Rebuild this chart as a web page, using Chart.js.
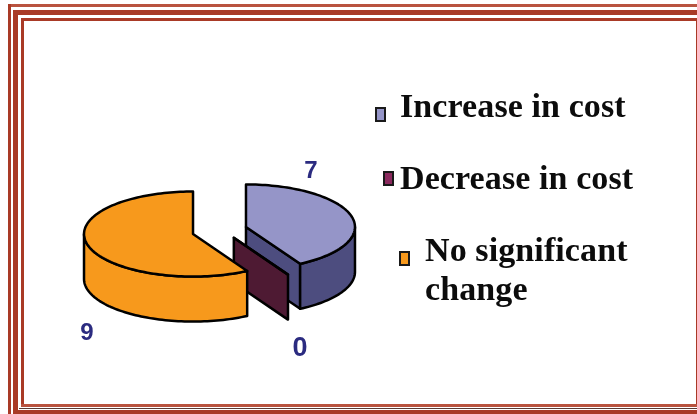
<!DOCTYPE html>
<html>
<head>
<meta charset="utf-8">
<title>Cost change</title>
<script src="https://cdn.jsdelivr.net/npm/chart.js@4/dist/chart.umd.min.js"></script>
<style>
  html, body { margin: 0; padding: 0; background: #fff; }
  #page { position: relative; width: 697px; height: 414px; overflow: hidden; }
  #pie { position: absolute; left: 0; top: 0; }
  .rule { position: absolute; background: #a93a26; }
  .entry {
    position: absolute;
    font: bold 34px/39px "Liberation Serif", serif;
    letter-spacing: 0.1px;
    color: #0c0c0c;
    white-space: nowrap;
  }
  .swatch {
    position: absolute;
    box-sizing: border-box;
    width: 11px; height: 15px;
    border: 2px solid #1a1a1a;
  }
</style>
</head>
<body>
<div id="page">
  <div id="frame"></div>
  <canvas id="pie" width="697" height="414"></canvas>
  <div id="legend"></div>
</div>
<script>
// data
const categories = ["Increase in cost", "Decrease in cost", "No significant change"];
const counts = [7, 0, 9];

// colours for each slice: top face, side wall
const topColors = ["#9595c8", "#8b2a5e", "#f7991c"];
const wallColors = ["#4d4d7f", "#4e1a33", "#f7991c"];

// pie look
const TILT = 0.39;       // ellipse height / width
const DEPTH = 45;        // height of the side wall
const EXPLODE = 27;
const SKEW = 0.18;       // angle foreshortening from the 3d view
const sliceNudge = [[0, -2], [4, -3], [0, 1]];

// ---- frame: [left, top, width, height, colour] of each band ----
const RED = "#a93a26";
const frameBands = [
  [8, 4, 689, 2.7, "#b9533f"], [8, 4, 3, 410, RED],
  [13, 10, 684, 5.3, RED], [13, 10, 5.3, 404, RED],
  [21, 18, 676, 2.7, RED], [21, 18, 3, 389, RED],
  [696, 18, 1, 389, RED],
  [21, 404, 676, 2.7, "#b9533f"],
  [19, 407.6, 678, 1, "#5a3a34"],
  [13, 410, 684, 4, RED]
];
frameBands.forEach(b => {
  const d = document.createElement("div");
  d.className = "rule";
  d.style.cssText = `left:${b[0]}px;top:${b[1]}px;width:${b[2]}px;height:${b[3]}px;background:${b[4]}`;
  document.getElementById("frame").appendChild(d);
});

// ---- legend, laid out by hand like a slide ----
const legendSlots = [
  { sx: 375, sy: 107, tx: 400, ty: 86, w: 0 },
  { sx: 383, sy: 171, tx: 400, ty: 158, w: 0 },
  { sx: 399, sy: 251, tx: 425, ty: 230, w: 240 }
];
categories.forEach((name, i) => {
  const slot = legendSlots[i];
  const sw = document.createElement("div");
  sw.className = "swatch";
  sw.style.cssText = `left:${slot.sx}px;top:${slot.sy}px;background:${topColors[i]}`;
  const label = document.createElement("div");
  label.className = "entry";
  label.style.cssText = `left:${slot.tx}px;top:${slot.ty}px`;
  if (slot.w) {
    label.style.width = slot.w + "px";
    label.style.whiteSpace = "normal";
  }
  label.textContent = name;
  document.getElementById("legend").append(sw, label);
});

// where the value numbers sit, next to each slice
const valueSlots = [
  { x: 311, y: 171, size: 24 },
  { x: 300, y: 349, size: 27 },
  { x: 87, y: 333, size: 24 }
];

// clockwise angle from 12 o'clock, nudged for the view
function viewAngle(a) {
  const t = a + Math.PI / 2;
  return t + SKEW * Math.sin(2 * t);
}

function rimPoint(cx, cy, r, t) {
  return [cx + r * Math.sin(t), cy - r * TILT * Math.cos(t)];
}

function rimPath(cx, cy, r, from, to) {
  const pts = [];
  const steps = Math.max(1, Math.ceil(Math.abs(to - from) / 0.03));
  for (let i = 0; i <= steps; i++) {
    pts.push(rimPoint(cx, cy, r, from + (to - from) * i / steps));
  }
  return pts;
}

function fillOutline(ctx, pts, color) {
  ctx.beginPath();
  pts.forEach((p, i) => i ? ctx.lineTo(p[0], p[1]) : ctx.moveTo(p[0], p[1]));
  ctx.closePath();
  ctx.fillStyle = color;
  ctx.fill();
  ctx.stroke();
}

function drawSlice(ctx, arc, index) {
  const opts = arc.options;
  const r = arc.outerRadius;
  const mid = (arc.startAngle + arc.endAngle) / 2 + Math.PI / 2;
  // the library's offset, pushed out along the slice middle on the tilted plane
  const cx = arc.x + opts.offset * Math.sin(mid) + sliceNudge[index][0];
  const cy = arc.y - opts.offset * TILT * Math.cos(mid) + sliceNudge[index][1];
  const start = viewAngle(arc.startAngle);
  const end = viewAngle(arc.endAngle);
  const wall = wallColors[index];

  // cut face at the end of the slice
  if (end > 0 && end < Math.PI) {
    const e = rimPoint(cx, cy, r, end);
    fillOutline(ctx, [[cx, cy], e, [e[0], e[1] + DEPTH], [cx, cy + DEPTH]], wall);
  }
  // outer wall, front half only
  const from = Math.max(start, Math.PI / 2);
  const to = Math.min(end, 3 * Math.PI / 2);
  if (to > from) {
    const rim = rimPath(cx, cy, r, from, to);
    const low = rim.slice().reverse().map(p => [p[0], p[1] + DEPTH]);
    fillOutline(ctx, rim.concat(low), wall);
  }
  // top face
  fillOutline(ctx, [[cx, cy]].concat(rimPath(cx, cy, r, start, end)), opts.backgroundColor);
}

const tiltedPie = {
  id: "tiltedPie",
  beforeDatasetsDraw(chart) {
    const ctx = chart.ctx;
    ctx.save();
    ctx.lineWidth = 2.5;
    ctx.lineJoin = "round";
    ctx.strokeStyle = "#000";
    chart.getDatasetMeta(0).data.forEach((arc, i) => drawSlice(ctx, arc, i));

    ctx.fillStyle = "#2b2b80";
    ctx.textAlign = "center";
    ctx.textBaseline = "middle";
    counts.forEach((v, i) => {
      const s = valueSlots[i];
      ctx.font = `bold ${s.size}px "Liberation Sans", Arial, sans-serif`;
      ctx.fillText(String(v), s.x, s.y);
    });
    ctx.restore();
    return false; // slices are done, skip the flat ones
  }
};

new Chart(document.getElementById("pie"), {
  type: "pie",
  data: {
    labels: categories,
    datasets: [{
      data: counts,
      backgroundColor: topColors,
      offset: EXPLODE,
      borderWidth: 0
    }]
  },
  options: {
    responsive: false,
    animation: false,
    layout: { padding: { left: 97, right: 355, top: 108.5, bottom: 60.5 } },
    plugins: { legend: { display: false }, tooltip: { enabled: false } }
  },
  plugins: [tiltedPie]
});
</script>
</body>
</html>
